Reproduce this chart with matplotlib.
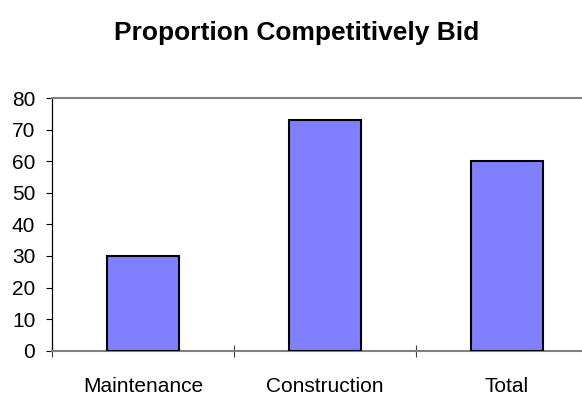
import matplotlib
matplotlib.use("Agg")
import matplotlib.pyplot as plt
import numpy as np

categories = ["Maintenance", "Construction", "Total"]
values = [30, 73, 60]
yticks = [0, 10, 20, 30, 40, 50, 60, 70, 80]
title = "Proportion Competitively Bid"

plt.rcParams["font.family"] = ["Liberation Sans", "DejaVu Sans"]

fig = plt.figure(figsize=(5.82, 3.95), dpi=100)
ax = fig.add_axes([52 / 582, (395 - 350.7) / 395, 546 / 582, 252.7 / 395])

x = np.arange(len(categories))
ax.bar(x, values, width=0.4, color="#8080FF", edgecolor="black", linewidth=1.5, zorder=3)

ax.set_xlim(-0.5, len(categories) - 0.5)
ax.set_ylim(0, 80)
ax.set_yticks(yticks)
ax.set_yticklabels([str(v) for v in yticks], fontsize=15)
ax.set_xticks(x)
ax.set_xticklabels(categories, fontsize=15)
ax.tick_params(axis="x", which="major", length=0, pad=19)
ax.set_xticks(np.arange(-0.5, len(categories), 1.0), minor=True)
ax.tick_params(axis="x", which="minor", length=8, direction="inout", width=0.8, color="#404040")
ax.tick_params(axis="y", length=4, width=0.8, direction="out", pad=8, color="black")

for side in ("top", "bottom"):
    ax.spines[side].set_color("#808080")
    ax.spines[side].set_linewidth(1.5)
ax.spines["left"].set_color("black")
ax.spines["left"].set_linewidth(0.9)
ax.spines["right"].set_visible(False)

fig.text(297 / 582, 1 - 33 / 395, title, fontsize=19, fontweight="bold",
         ha="center", va="center")

fig.savefig("out.png", dpi=100)
